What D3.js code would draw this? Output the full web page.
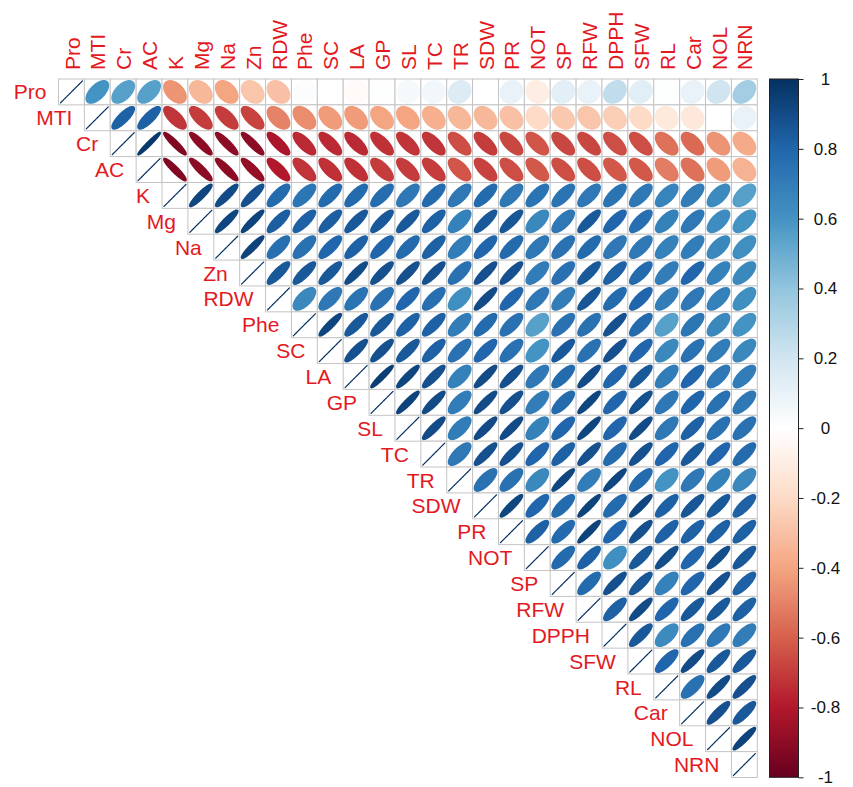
<!DOCTYPE html>
<html>
<head>
<meta charset="utf-8">
<script src="https://cdn.jsdelivr.net/npm/d3@7"></script>
<style>
  html, body { margin: 0; padding: 0; background: #ffffff; }
  svg { display: block; font-family: "Liberation Sans", Arial, Helvetica, sans-serif; }
</style>
</head>
<body>
<svg id="chart" width="853" height="787"></svg>
<script>
// Variable order (rows and columns of the correlation matrix)
const variables = ["Pro","MTI","Cr","AC","K","Mg","Na","Zn","RDW","Phe","SC","LA","GP","SL",
  "TC","TR","SDW","PR","NOT","SP","RFW","DPPH","SFW","RL","Car","NOL","NRN"];

// Upper-triangle correlations: each array holds r with the variables after the row variable
const rPro  = [0.60, 0.55, 0.55, -0.45, -0.33, -0.40, -0.28, -0.30, 0.02, 0.00, -0.03, 0.01, 0.05,
               0.06, 0.15, 0.00, 0.10, -0.10, 0.12, 0.10, 0.25, 0.13, 0.01, 0.10, 0.20, 0.35];
const rMTI  = [0.82, 0.82, -0.72, -0.70, -0.70, -0.68, -0.50, -0.47, -0.43, -0.43, -0.40, -0.40,
               -0.36, -0.33, -0.33, -0.30, -0.20, -0.27, -0.28, -0.25, -0.20, -0.12, -0.13, 0.00, 0.10];
const rCr   = [0.97, -0.93, -0.90, -0.90, -0.90, -0.82, -0.75, -0.75, -0.75, -0.73, -0.72, -0.72,
               -0.65, -0.70, -0.67, -0.63, -0.67, -0.67, -0.65, -0.65, -0.55, -0.57, -0.45, -0.38];
const rAC   = [-0.93, -0.90, -0.90, -0.88, -0.80, -0.72, -0.73, -0.73, -0.70, -0.70, -0.70, -0.63,
               -0.68, -0.65, -0.62, -0.65, -0.65, -0.62, -0.62, -0.52, -0.55, -0.43, -0.35];
const rK    = [0.92, 0.90, 0.88, 0.78, 0.73, 0.78, 0.78, 0.77, 0.72, 0.78, 0.72, 0.78, 0.72,
               0.74, 0.74, 0.72, 0.74, 0.72, 0.67, 0.70, 0.64, 0.55];
const rMg   = [0.92, 0.93, 0.83, 0.82, 0.83, 0.85, 0.85, 0.85, 0.82, 0.68, 0.85, 0.86, 0.65,
               0.72, 0.85, 0.80, 0.76, 0.68, 0.72, 0.63, 0.60];
const rNa   = [0.93, 0.76, 0.75, 0.80, 0.82, 0.80, 0.78, 0.82, 0.70, 0.80, 0.78, 0.72, 0.75,
               0.78, 0.72, 0.72, 0.68, 0.70, 0.65, 0.62];
const rZn   = [0.85, 0.85, 0.85, 0.90, 0.88, 0.88, 0.88, 0.75, 0.88, 0.88, 0.70, 0.75, 0.85,
               0.82, 0.78, 0.70, 0.80, 0.68, 0.65];
const rRDW  = [0.65, 0.72, 0.74, 0.75, 0.80, 0.76, 0.62, 0.90, 0.80, 0.72, 0.70, 0.86, 0.78,
               0.80, 0.70, 0.72, 0.68, 0.62];
const rPhe  = [0.92, 0.85, 0.85, 0.82, 0.82, 0.70, 0.78, 0.75, 0.55, 0.75, 0.75, 0.88, 0.78,
               0.55, 0.73, 0.65, 0.60];
const rSC   = [0.88, 0.88, 0.85, 0.82, 0.75, 0.80, 0.75, 0.60, 0.85, 0.75, 0.88, 0.80, 0.65,
               0.75, 0.70, 0.65];
const rLA   = [0.95, 0.92, 0.88, 0.68, 0.90, 0.88, 0.72, 0.78, 0.90, 0.80, 0.85, 0.70, 0.80, 0.72, 0.70];
const rGP   = [0.93, 0.90, 0.70, 0.90, 0.88, 0.70, 0.78, 0.92, 0.80, 0.88, 0.72, 0.80, 0.75, 0.72];
const rSL   = [0.90, 0.70, 0.90, 0.90, 0.68, 0.80, 0.92, 0.80, 0.90, 0.72, 0.82, 0.75, 0.75];
const rTC   = [0.72, 0.88, 0.88, 0.80, 0.82, 0.88, 0.78, 0.88, 0.80, 0.85, 0.80, 0.78];
const rTR   = [0.75, 0.75, 0.65, 0.92, 0.70, 0.92, 0.78, 0.60, 0.72, 0.68, 0.65];
const rSDW  = [0.92, 0.80, 0.78, 0.93, 0.78, 0.92, 0.82, 0.86, 0.85, 0.82];
const rPR   = [0.82, 0.78, 0.93, 0.80, 0.88, 0.82, 0.82, 0.82, 0.82];
const rNOT  = [0.78, 0.82, 0.62, 0.85, 0.89, 0.80, 0.89, 0.85];
const rSP   = [0.78, 0.88, 0.86, 0.68, 0.80, 0.88, 0.82];
const rRFW  = [0.82, 0.90, 0.80, 0.85, 0.85, 0.82];
const rDPPH = [0.85, 0.64, 0.75, 0.72, 0.70];
const rSFW  = [0.80, 0.90, 0.85, 0.85];
const rRL   = [0.75, 0.90, 0.88];
const rCar  = [0.88, 0.85];
const rNOL  = [0.93];
const rNRN  = [];

// Colour legend ticks and their printed labels
const legendTicks  = [1, 0.8, 0.6, 0.4, 0.2, 0, -0.2, -0.4, -0.6, -0.8, -1];
const legendLabels = ["1", "0.8", "0.6", "0.4", "0.2", "0", "-0.2", "-0.4", "-0.6", "-0.8", "-1"];

// Diverging red-white-blue palette
const paletteColors = ["#67001F","#B2182B","#D6604D","#F4A582","#FDDBC7","#FFFFFF",
                       "#D1E5F0","#92C5DE","#4393C3","#2166AC","#053061"];

const rowArrays = [rPro, rMTI, rCr, rAC, rK, rMg, rNa, rZn, rRDW, rPhe, rSC, rLA, rGP, rSL,
  rTC, rTR, rSDW, rPR, rNOT, rSP, rRFW, rDPPH, rSFW, rRL, rCar, rNOL, rNRN];

// Build cell records (diagonal r = 1 plus the upper triangle)
const cells = [];
variables.forEach((rowVar, i) => {
  cells.push({ row: rowVar, col: rowVar, r: 1, diag: true });
  rowArrays[i].forEach((r, k) => {
    cells.push({ row: rowVar, col: variables[i + 1 + k], r: r, diag: false });
  });
});

const svg = d3.select("#chart");

const x = d3.scaleBand().domain(variables).range([58.5, 757.3]).padding(0);
const y = d3.scaleBand().domain(variables).range([79, 777.5]).padding(0);
const bw = x.bandwidth();
const bh = y.bandwidth();

const color = d3.scaleLinear()
  .domain(d3.range(paletteColors.length).map(k => -1 + 2 * k / (paletteColors.length - 1)))
  .range(paletteColors)
  .interpolate(d3.interpolateRgb);

// Ellipse outline for a correlation r, in unit-cell coordinates
function ellipsePoints(r) {
  const a = Math.acos(Math.max(-1, Math.min(1, r)));
  return d3.range(100).map(k => {
    const t = 2 * Math.PI * k / 99;
    return [0.85 * Math.cos(t + a / 2) / 2, 0.85 * Math.cos(t - a / 2) / 2];
  });
}

const ux = d3.scaleLinear().domain([-0.5, 0.5]).range([-bw / 2, bw / 2]);
const uy = d3.scaleLinear().domain([-0.5, 0.5]).range([bh / 2, -bh / 2]);
const ellLine = d3.line().x(p => ux(p[0])).y(p => uy(p[1])).curve(d3.curveLinearClosed);

// Grid of cell borders
svg.append("g")
  .selectAll("rect")
  .data(cells)
  .join("rect")
  .attr("x", d => x(d.col))
  .attr("y", d => y(d.row))
  .attr("width", bw)
  .attr("height", bh)
  .attr("fill", "#ffffff")
  .attr("stroke", "#c4c4c4")
  .attr("stroke-width", 1);

// Ellipses
svg.append("g")
  .selectAll("path")
  .data(cells)
  .join("path")
  .attr("transform", d => `translate(${x(d.col) + bw / 2},${y(d.row) + bh / 2})`)
  .attr("d", d => ellLine(ellipsePoints(d.r)))
  .attr("fill", d => color(d.r))
  .attr("stroke", d => color(d.r))
  .attr("stroke-width", d => d.diag ? 1.2 : 1.8)
  .attr("stroke-linejoin", "round");

const labelColor = "#e3191f";

// Column labels (vertical, above the grid)
svg.append("g")
  .selectAll("text")
  .data(variables)
  .join("text")
  .attr("transform", d => `translate(${x(d) + bw / 2 + 0.5},70) rotate(-90)`)
  .attr("dy", "0.36em")
  .attr("text-anchor", "start")
  .attr("font-size", 21)
  .attr("fill", labelColor)
  .text(d => d);

// Row labels (left of each diagonal cell)
svg.append("g")
  .selectAll("text")
  .data(variables)
  .join("text")
  .attr("x", d => x(d) - 12)
  .attr("y", d => y(d) + bh / 2)
  .attr("dy", "0.36em")
  .attr("text-anchor", "end")
  .attr("font-size", 21)
  .attr("fill", labelColor)
  .text(d => d);

// Colour legend
const barX = 769.5, barW = 29;
const legendY = d3.scaleLinear().domain([1, -1]).range([79, 777.3]);

const defs = svg.append("defs");
const grad = defs.append("linearGradient")
  .attr("id", "corrGrad")
  .attr("x1", 0).attr("y1", 1).attr("x2", 0).attr("y2", 0);
paletteColors.forEach((c, k) => {
  grad.append("stop")
    .attr("offset", (k / (paletteColors.length - 1) * 100) + "%")
    .attr("stop-color", c);
});

svg.append("rect")
  .attr("x", barX)
  .attr("y", legendY(1))
  .attr("width", barW)
  .attr("height", legendY(-1) - legendY(1))
  .attr("fill", "url(#corrGrad)")
  .attr("stroke", "#222222")
  .attr("stroke-width", 1);

const legendAxis = d3.axisRight(legendY)
  .tickValues(legendTicks)
  .tickSize(5)
  .tickFormat((d, i) => legendLabels[i]);

const axG = svg.append("g")
  .attr("transform", `translate(${barX + barW},0)`)
  .call(legendAxis);
axG.select(".domain").remove();
axG.selectAll(".tick line").attr("stroke", "#222222");
axG.selectAll(".tick text")
  .attr("x", 27)
  .attr("text-anchor", "middle")
  .attr("font-size", 17)
  .attr("font-family", "\"Liberation Sans\", Arial, sans-serif")
  .attr("fill", "#111111");
</script>
</body>
</html>
